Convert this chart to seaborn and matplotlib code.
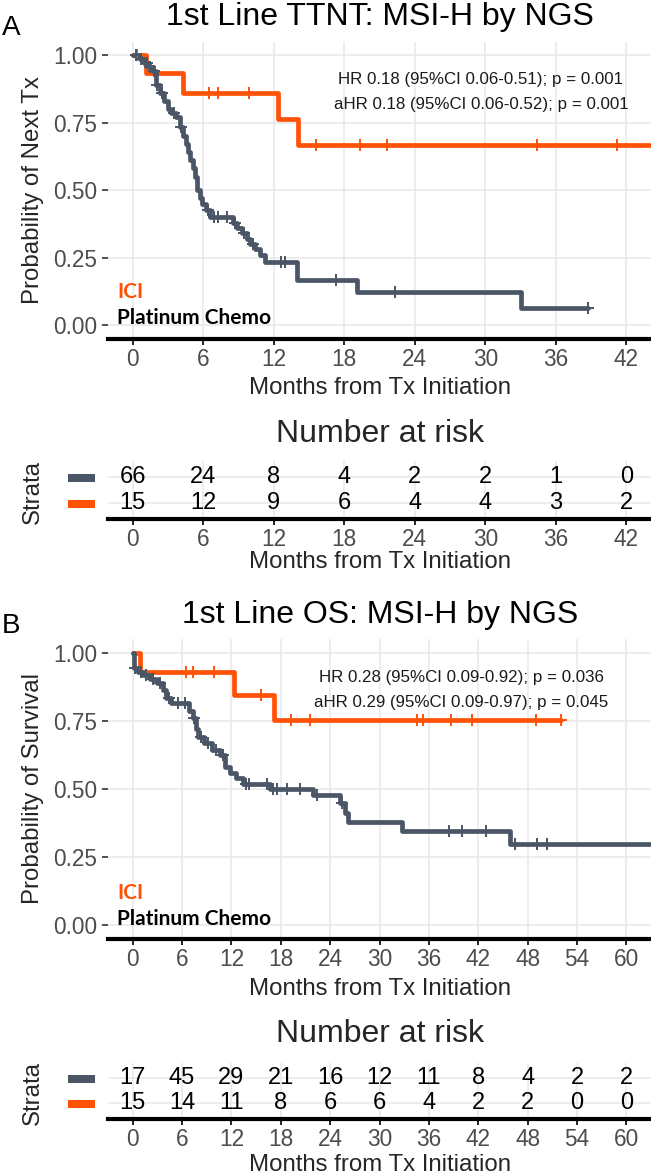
import numpy as np
import pandas as pd
import matplotlib
matplotlib.use("Agg")
import matplotlib.pyplot as plt
import seaborn as sns
from matplotlib.patches import Rectangle

# ---------------- data ----------------
# Panel A: 1st line TTNT
a_chemo_event_t = [0.6, 1.0, 1.4, 1.7, 2.0, 2.3, 2.7, 3.0, 3.3, 3.7, 4.0, 4.3, 4.5, 4.7, 4.9, 5.1,
                   5.3, 5.5, 5.7, 5.9, 6.2, 6.6, 8.5, 8.9, 9.3, 9.7, 10.0, 10.4, 10.8, 11.3, 14.0, 19.1, 33.0]
a_chemo_event_s = [0.985, 0.97, 0.955, 0.94, 0.89, 0.86, 0.83, 0.80, 0.785, 0.77, 0.735, 0.70, 0.67, 0.64, 0.61, 0.58,
                   0.55, 0.50, 0.47, 0.45, 0.425, 0.40, 0.378, 0.36, 0.34, 0.32, 0.30, 0.28, 0.26, 0.235, 0.167, 0.124, 0.062]
a_chemo_censor = [0.3, 0.7, 1.2, 1.5, 1.8, 2.1, 2.5, 3.5, 4.1, 6.4, 6.9, 7.3, 8.0, 8.7, 9.5, 10.2,
                  12.6, 13.0, 17.3, 22.3, 38.7]
a_chemo_end = 38.7

a_ici_event_t = [1.1, 4.3, 12.4, 14.1]
a_ici_event_s = [0.933, 0.858, 0.763, 0.667]
a_ici_censor = [0.4, 6.5, 7.3, 9.9, 15.6, 19.3, 21.6, 34.4, 41.2]
a_ici_end = 46.0

a_risk_times = [0, 6, 12, 18, 24, 30, 36, 42]
a_risk_chemo = [66, 24, 8, 4, 2, 2, 1, 0]
a_risk_ici = [15, 12, 9, 6, 4, 4, 3, 2]

# Panel B: 1st line OS
b_chemo_event_t = [0.1, 0.6, 1.2, 2.1, 2.9, 3.7, 4.1, 4.7, 6.9, 7.3, 7.7, 7.9, 8.7, 9.6, 10.6, 11.2,
                   11.8, 12.6, 13.4, 16.7, 21.9, 25.2, 25.8, 26.2, 32.7, 45.9]
b_chemo_event_s = [0.945, 0.93, 0.92, 0.905, 0.89, 0.865, 0.835, 0.815, 0.785, 0.76, 0.72, 0.69, 0.668, 0.643, 0.625, 0.58,
                   0.557, 0.54, 0.52, 0.50, 0.478, 0.448, 0.41, 0.38, 0.345, 0.298]
b_chemo_censor = [0.3, 1.0, 1.6, 2.5, 3.3, 4.4, 5.5, 6.3, 7.5, 8.3, 9.2, 10.1, 11.0, 13.8, 14.1, 16.3, 17.1, 17.5,
                  18.7, 20.3, 22.4, 25.4, 38.5, 40.0, 43.0, 46.5, 49.2, 50.3]
b_chemo_end = 66.0

b_ici_event_t = [0.9, 12.3, 17.2]
b_ici_event_s = [0.93, 0.845, 0.752]
b_ici_censor = [6.5, 7.3, 9.9, 15.6, 19.2, 21.6, 34.5, 35.3, 38.7, 41.2, 49.0, 52.0]
b_ici_end = 52.0

b_risk_times = [0, 6, 12, 18, 24, 30, 36, 42, 48, 54, 60]
b_risk_chemo = [17, 45, 29, 21, 16, 12, 11, 8, 4, 2, 2]
b_risk_ici = [15, 14, 11, 8, 6, 6, 4, 2, 2, 0, 0]

groups = ["Platinum Chemo", "ICI"]
ORANGE = "#FF5207"
GREY = "#4A5666"

# ---------------- setup ----------------
sns.set_theme(style="white")
plt.rcParams["font.family"] = ["Liberation Sans", "DejaVu Sans"]

W, H = 651, 1175
fig = plt.figure(figsize=(W / 100, H / 100), dpi=100)


def rect(l, t, r, b):
    return [l / W, 1 - b / H, (r - l) / W, (b - t) / H]


def ftext(x, y, s, **kw):
    fig.text(x / W, 1 - y / H, s, **kw)


def step_level(ev_t, ev_s, t):
    levels = [1.0] + list(ev_s)
    idx = np.searchsorted(np.asarray(ev_t), np.asarray(t), side="right")
    return np.asarray(levels)[idx]


def draw_curve(ax, ev_t, ev_s, cens, end, color):
    t = [0.0] + list(ev_t) + [end]
    s = [1.0] + list(ev_s) + [ev_s[-1]]
    df = pd.DataFrame({"t": t, "s": s})
    sns.lineplot(data=df, x="t", y="s", drawstyle="steps-post", color=color, lw=3.4,
                 estimator=None, sort=False, ax=ax, legend=False)
    cdf = pd.DataFrame({"t": cens, "s": step_level(ev_t, ev_s, cens)})
    sns.scatterplot(data=cdf, x="t", y="s", marker="+", s=80, color=color, linewidth=1.4,
                    ax=ax, legend=False, zorder=4)


def style_axis(ax, xmax):
    ax.set_xlim(-0.05 * xmax, 1.05 * xmax)
    ax.set_xticks(np.arange(0, xmax + 1, 6))
    ax.grid(True, color="#E8E8E8", lw=1.1)
    ax.set_axisbelow(True)
    for sp in ["top", "right", "left"]:
        ax.spines[sp].set_visible(False)
    ax.spines["bottom"].set_color("black")
    ax.spines["bottom"].set_linewidth(3)
    ax.tick_params(axis="x", bottom=True, length=4, width=1.2, color="black",
                   labelsize=16.3, labelcolor="#4D4D4D", pad=3)
    ax.set_xlabel("")
    ax.set_ylabel("")


def km_panel(top, bottom, ev, xmax, title, letter, ylabel, hr1, hr2, hrx, offs):
    ax = fig.add_axes(rect(108, top, 651, bottom))
    (ct, cs, cc, ce), (it, is_, ic, ie) = ev
    draw_curve(ax, it, is_, ic, ie, ORANGE)
    draw_curve(ax, ct, cs, cc, ce, GREY)
    style_axis(ax, xmax)
    ax.set_ylim(-0.05, 1.05)
    ax.set_yticks([0, 0.25, 0.5, 0.75, 1.0])
    ax.set_yticklabels(["0.00", "0.25", "0.50", "0.75", "1.00"])
    ax.tick_params(axis="y", left=True, length=4, width=1.2, color="#333333",
                   labelsize=16.3, labelcolor="#4D4D4D", pad=4)
    t0 = offs
    ftext(2, t0 + 35, letter, fontsize=20, color="black", va="baseline", ha="left")
    ftext(380, t0 + 25, title, fontsize=23, color="black", va="baseline", ha="center")
    ftext(hrx, t0 + 84, hr1, fontsize=12.2, color="#1A1A1A", va="baseline", ha="center")
    ftext(hrx, t0 + 109, hr2, fontsize=12.2, color="#1A1A1A", va="baseline", ha="center")
    ftext(117, bottom - 40, "ICI", fontsize=15, color=ORANGE, fontweight="bold",
          family=["Lato", "DejaVu Sans"], va="baseline", ha="left")
    ftext(117, bottom - 14, "Platinum Chemo", fontsize=15, color="black", fontweight="bold",
          family=["Lato", "DejaVu Sans"], va="baseline", ha="left")
    ftext(33, (top + bottom) / 2, ylabel, fontsize=17.3, rotation=90, va="center", ha="center")
    ftext(380, bottom + 50, "Months from Tx Initiation", fontsize=17.3, va="center", ha="center")
    return ax


def risk_table(top, bottom, rowpx, times, chemo, ici, xmax, y_nar, y_xl):
    ax = fig.add_axes(rect(108, top, 651, bottom))
    style_axis(ax, xmax)
    ax.set_ylim(2.6, 0.4)
    ax.set_yticks([1, 2])
    ax.set_yticklabels([])
    ax.tick_params(axis="y", left=False)
    rows = pd.DataFrame({"t": times * 2, "row": [1] * len(times) + [2] * len(times),
                         "n": list(chemo) + list(ici)})
    for _, r in rows.iterrows():
        ax.text(r["t"], r["row"], str(int(r["n"])), ha="center", va="center",
                fontsize=17, color="black")
    for rp, col in zip(rowpx, [GREY, ORANGE]):
        fig.add_artist(Rectangle((68 / W, 1 - (rp + 4) / H), 27 / W, 8 / H,
                                 transform=fig.transFigure, color=col, lw=0))
    ftext(380, y_nar, "Number at risk", fontsize=23, va="center", ha="center")
    ftext(33, (top + bottom) / 2 + 2, "Strata", fontsize=17.3, rotation=90, va="center", ha="center")
    ftext(380, y_xl, "Months from Tx Initiation", fontsize=17.3, va="center", ha="center")
    return ax


km_panel(41.5, 338.5,
         ((a_chemo_event_t, a_chemo_event_s, a_chemo_censor, a_chemo_end),
          (a_ici_event_t, a_ici_event_s, a_ici_censor, a_ici_end)),
         42, "1st Line TTNT: MSI-H by NGS", "A", "Probability of Next Tx",
         "HR 0.18 (95%CI 0.06-0.51); p = 0.001", "aHR 0.18 (95%CI 0.06-0.52); p = 0.001",
         481, 0)
risk_table(461, 518.6, [478, 504], a_risk_times, a_risk_chemo, a_risk_ici, 42, 434, 562)

km_panel(639.4, 938.6,
         ((b_chemo_event_t, b_chemo_event_s, b_chemo_censor, b_chemo_end),
          (b_ici_event_t, b_ici_event_s, b_ici_censor, b_ici_end)),
         60, "1st Line OS: MSI-H by NGS", "B", "Probability of Survival",
         "HR 0.28 (95%CI 0.09-0.92); p = 0.036", "aHR 0.29 (95%CI 0.09-0.97); p = 0.045",
         461, 598)
risk_table(1062.7, 1118.6, [1079, 1104], b_risk_times, b_risk_chemo, b_risk_ici, 60, 1034, 1165)

fig.savefig("out.png", dpi=100, facecolor="white")
